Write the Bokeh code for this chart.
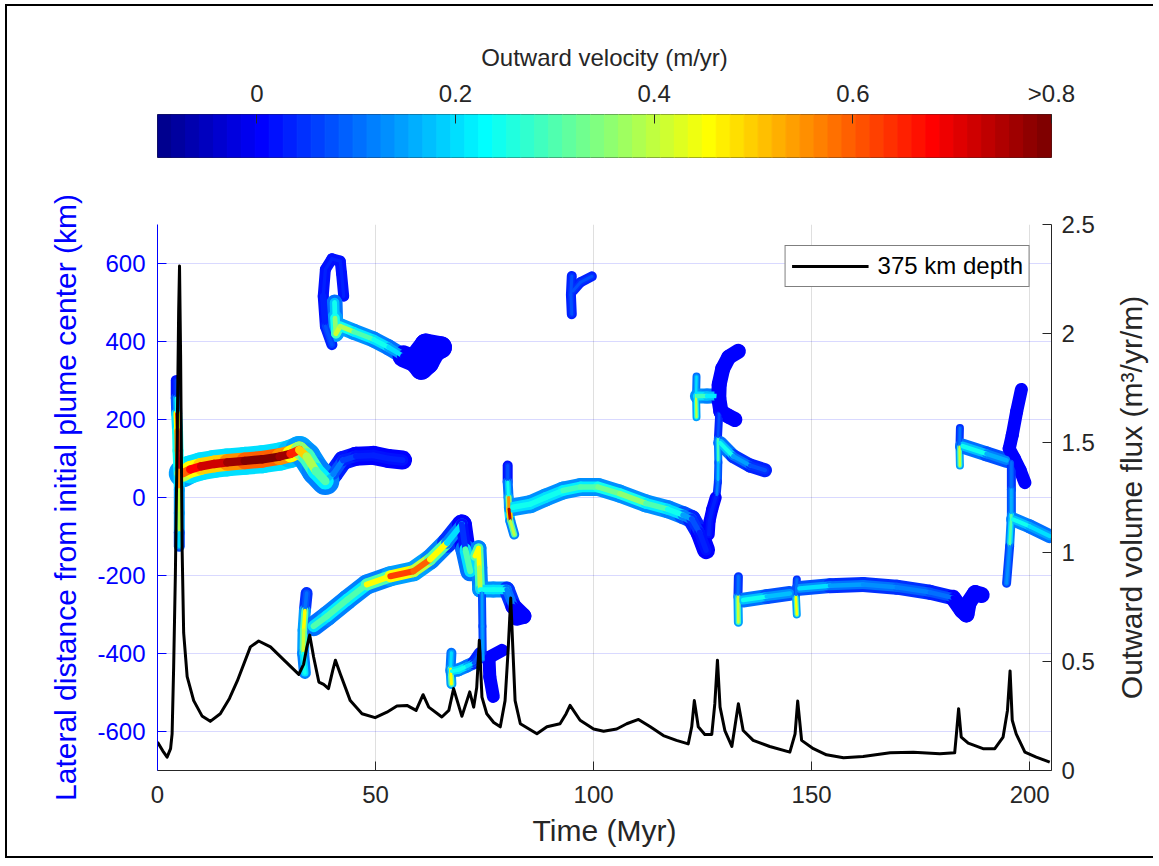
import math
from bokeh.plotting import figure
from bokeh.models import (ColumnDataSource, LinearAxis, Range1d, FixedTicker, Label,
                          Legend, LegendItem, LinearColorMapper)
from bokeh.layouts import column, row
from bokeh.embed import file_html
from bokeh.resources import INLINE

FONT = "Liberation Sans"

# ---------------- data ----------------
# colour bar
CBAR_LOW, CBAR_HIGH = -0.1, 0.8
CBAR_TICKS = [0, 0.2, 0.4, 0.6, 0.8]
CBAR_LABELS = ["0", "0.2", "0.4", "0.6", ">0.8"]

# axes ticks
X_TICKS = [0, 50, 100, 150, 200]
Y_TICKS = [-600, -400, -200, 0, 200, 400, 600]
Y_TICK_LABELS = ["-600", "-400", "-200", "0", "200", "400", "600"]
FLUX_TICKS = [0, 50000, 100000, 150000, 200000, 250000]
FLUX_TICK_LABELS = ["0", "0.5", "1", "1.5", "2", "2.5"]

# outward volume flux at 375 km depth: time (Myr), flux (m^3/yr/m)
FLUX_T = [0, 1.2, 2.2, 3.0, 3.35, 3.7, 4.1, 4.5, 4.85, 5.05, 5.3, 5.65, 6.0, 6.8, 8.3,
          10.2, 12.1, 14.4, 16.5, 18.3, 21.3, 23.2, 25.9, 28.9, 32.4, 33.5, 34.2, 34.9,
          35.8, 37.0, 38.1, 39.2, 40.2, 40.8, 41.9, 44.2, 46.9, 49.9, 52.6, 54.9, 57.2,
          59.3, 60.9, 62.2, 65.2, 66.8, 67.9, 69.8, 71.6, 72.5, 73.2, 73.8, 74.4, 75.5,
          77.1, 78.6, 79.7, 80.4, 81.0, 81.5, 82.0, 83.2, 87.0, 89.3, 92.3, 93.7, 94.6,
          96.9, 100, 102.3, 105.3, 107.6, 110.3, 113, 116, 119, 121.7, 122.5, 123.1, 124,
          125.5, 127.1, 127.8, 128.4, 129, 130.1, 131.7, 132.4, 133.2, 134.3, 136.6,
          140.4, 145, 146.2, 146.8, 147.7, 150.4, 153.4, 157.3, 161.8, 168, 173.3, 179.4,
          182.8, 183.2, 183.7, 184.3, 185.9, 189.3, 192, 193.9, 194.9, 195.5, 196, 196.9,
          198.9, 201.5, 204.6]
FLUX_V = [13000, 9000, 6100, 10000, 16800, 47000, 90000, 150000, 210000, 231000, 190000,
          101000, 63000, 43000, 32000, 25000, 22500, 26000, 33000, 41000, 56600, 59300,
          56600, 50800, 44000, 48600, 56000, 62000, 52000, 40500, 39400, 37500, 46000,
          50500, 44300, 32000, 26000, 24200, 26700, 29500, 29800, 27500, 34700, 29000,
          24500, 27500, 37500, 24800, 36000, 29000, 38000, 59600, 33600, 26000, 22000,
          20000, 32000, 55000, 79000, 55000, 32000, 21400, 16800, 20000, 21400, 26000,
          29800, 23000, 19000, 18000, 19000, 21400, 23400, 20000, 16000, 13800, 12200,
          20000, 32000, 20000, 16500, 16500, 30600, 50500, 29000, 18300, 11000, 20000,
          30600, 18300, 13800, 11000, 8400, 16800, 31800, 13800, 10000, 7200, 5800, 6400,
          8100, 8300, 7700, 8100, 16800, 28300, 15300, 12500, 10000, 10000, 15300, 27500,
          45600, 23000, 16800, 8400, 6100, 3800]

# plume-centre tracks: (time Myr, lateral distance km, edge / mid / core outward velocity m/yr)
TRK_A = [(4.3, 300, .02, .04, .06), (4.3, 255, .08, .15, .25), (4.4, 215, .2, .45, .65),
         (4.6, 170, .25, .55, .72), (4.7, 120, .25, .55, .72), (4.9, 70, .2, .4, .55),
         (5.0, 20, .15, .3, .4), (5.0, -40, .15, .28, .38), (5.0, -90, .08, .15, .2),
         (5.0, -125, .02, .05, .08)]
TRK_B = [(5.8, 62, .15, .4, .6), (7.5, 72, .2, .45, .68), (10, 80, .2, .5, .72),
         (13, 86, .2, .5, .72), (16, 90, .2, .55, .76), (20, 94, .2, .6, .8),
         (24, 98, .2, .6, .8), (28, 105, .2, .55, .76), (30.5, 112, .18, .45, .65),
         (32.5, 122, .15, .35, .5), (34.2, 105, .13, .28, .38), (36.3, 68, .12, .22, .3),
         (38.5, 42, .06, .12, .18)]
TRK_B_TAIL = [(38.5, 42, .06, .12, .18), (40.3, 60, .04, .08, .12), (42.5, 95, .02, .04, .06),
              (45.5, 106, 0, .02, .03), (49.5, 108, 0, .02, .03), (53, 100, 0, .02, .03),
              (56.2, 96, 0, .02, .03)]
TRK_C = [(42.7, 516, .02, .02, .03), (42.2, 575, .02, .02, .03), (41.9, 606, .02, .02, .03),
         (40.0, 612, .02, .02, .03), (38.5, 585, .02, .02, .03), (38.0, 516, .02, .03, .04),
         (38.5, 439, .04, .06, .08), (40.0, 392, .04, .06, .08)]
TRK_D = [(40.6, 500, .1, .18, .25), (40.7, 460, .15, .25, .35), (40.9, 420, .15, .28, .42),
         (41.9, 439, .15, .25, .38), (45, 425, .13, .22, .3), (49.6, 405, .12, .2, .25),
         (53, 385, .1, .15, .2), (56.4, 362, .05, .08, .12)]
TRK_D_BLOB = [(56.4, 362, 0, 0, 0), (59, 350, 0, 0, 0), (60.5, 330, 0, 0, 0),
              (62, 345, 0, 0, 0), (63.5, 375, 0, 0, 0), (65, 385, 0, 0, 0),
              (61.5, 392, 0, 0, 0), (60, 370, 0, 0, 0)]
TRK_E_START = [(34.2, -245, .05, .08, .1), (33.8, -290, .15, .3, .45), (33.5, -340, .15, .3, .42),
               (33.4, -400, .12, .2, .25), (33.8, -450, .03, .05, .07)]
TRK_E = [(35.8, -330, .1, .2, .3), (38.9, -304, .12, .22, .3), (43.5, -262, .12, .22, .3),
         (48.0, -223, .12, .3, .45), (53.4, -202, .15, .45, .62), (58.7, -189, .15, .4, .6),
         (62.5, -159, .12, .3, .45), (66.4, -116, .05, .12, .2), (69.8, -69, 0, .02, .05),
         (70.6, -133, .1, .2, .3), (71.7, -189, .12, .25, .35)]
TRK_E_END = [(72.8, -150, .12, .3, .45), (73.6, -130, .12, .3, .45), (73.8, -180, .12, .28, .4),
             (74.0, -236, .13, .2, .25), (77.0, -236, .13, .2, .25), (80.1, -236, .05, .1, .12),
             (81.6, -279, 0, 0, 0), (83.9, -304, 0, 0, 0), (82.4, -308, 0, 0, 0)]
TRK_E_DROP = [(74.4, -244, .06, .1, .15), (74.5, -330, .06, .1, .15), (74.6, -415, .03, .05, .07)]
TRK_E_BLUE = [(79.0, -392, 0, 0, 0), (76.0, -410, 0, 0, 0), (76.2, -460, 0, 0, 0),
              (77.0, -510, 0, 0, 0)]
TRK_E_SMALL_V = [(67.4, -398, .1, .15, .2), (67.2, -440, .15, .3, .45), (67.4, -478, .1, .15, .2)]
TRK_E_SMALL_H = [(67.5, -445, .12, .2, .25), (69, -442, .12, .2, .25), (71, -432, .1, .15, .2),
                 (72.5, -424, .03, .05, .07), (74, -400, .02, .03, .04)]
TRK_F_V = [(80.3, 82, .02, .05, .08), (80.3, 40, .1, .18, .25), (80.5, 0, .15, .35, .55),
           (80.6, -30, .2, .5, .75), (80.9, -60, .12, .3, .4), (81.8, -95, .02, .04, .06)]
TRK_F = [(81.5, -25, .13, .2, .25), (85.5, -17, .13, .2, .25), (89, 0, .13, .2, .25),
         (93, 18, .13, .22, .28), (97, 27, .13, .22, .3), (101, 27, .13, .25, .33),
         (106, 10, .13, .25, .35), (112, -15, .13, .22, .3), (117, -30, .12, .2, .25),
         (120.5, -45, .08, .12, .15), (122.5, -55, .03, .05, .07), (124.3, -90, 0, .02, .03),
         (125.8, -135, 0, .02, .03)]
TRK_G_V = [(95.0, 470, .03, .05, .08), (94.8, 520, .03, .05, .08), (95.0, 568, .03, .05, .08)]
TRK_G_B = [(95.3, 530, .03, .05, .08), (97, 552, .03, .05, .08), (99.6, 567, .03, .05, .08)]
TRK_H_V = [(123.6, 310, .1, .15, .2), (123.5, 262, .15, .25, .4), (123.6, 206, .1, .15, .2)]
TRK_H = [(123.8, 260, .13, .2, .28), (126, 260, .12, .18, .22), (128.4, 260, .08, .12, .15)]
TRK_H_ARC = [(133.2, 375, 0, 0, 0), (131.0, 360, 0, 0, 0), (129.6, 330, 0, 0, 0),
             (128.8, 290, 0, 0, 0), (128.7, 255, 0, 0, 0), (129.2, 220, 0, 0, 0),
             (131.0, 208, 0, 0, 0), (132.4, 200, 0, 0, 0)]
TRK_H_DOWN = [(128.8, 215, .03, .05, .08), (128.5, 150, .1, .18, .28), (128.6, 90, .08, .12, .18),
              (128.5, 40, .05, .08, .12), (128.2, 5, .03, .05, .08)]
TRK_H_LOW = [(128.0, 0, .01, .02, .03), (127.2, -30, .01, .02, .03), (126.6, -60, .01, .02, .03),
             (126.4, -95, .01, .02, .03)]
TRK_H_BR = [(129, 140, .1, .18, .25), (132, 106, .05, .1, .15), (135.9, 82, .03, .05, .08),
            (139.3, 70, .02, .03, .04)]
TRK_I_V1 = [(133.2, -203, .05, .08, .1), (133.1, -255, .15, .28, .42), (133.2, -320, .05, .08, .1)]
TRK_I_H1 = [(134.3, -263, .1, .18, .25), (139.7, -254, .08, .13, .18), (145, -246, .06, .1, .15)]
TRK_I_V2 = [(146.6, -210, .05, .08, .1), (146.4, -255, .15, .3, .45), (146.6, -300, .05, .08, .1)]
TRK_I = [(147.2, -233, .08, .13, .2), (154.2, -226, .05, .1, .14), (161.8, -223, .05, .1, .13),
         (169.5, -230, .05, .09, .12), (177.1, -243, .04, .08, .1), (182.4, -257, .02, .04, .05)]
TRK_I_BLOB = [(182.4, -257, 0, 0, 0), (184.5, -290, 0, 0, 0), (185.5, -300, 0, 0, 0),
              (186, -270, 0, 0, 0), (187.5, -245, 0, 0, 0), (189, -250, 0, 0, 0)]
TRK_J_V = [(184.0, 178, .05, .08, .1), (183.9, 130, .15, .28, .42), (184.0, 82, .05, .08, .1)]
TRK_J = [(184.6, 132, .1, .18, .25), (190.1, 112, .08, .12, .16), (194.7, 95, .03, .05, .07)]
TRK_J_ARC = [(198.1, 277, 0, 0, 0), (197.0, 220, 0, 0, 0), (196.0, 160, 0, 0, 0),
             (195.3, 125, 0, 0, 0), (196.5, 100, 0, 0, 0), (197.8, 70, 0, 0, 0),
             (198.9, 38, 0, 0, 0)]
TRK_J_DOWN = [(195.8, 90, .05, .08, .1), (195.8, 20, .08, .12, .16), (195.8, -45, .12, .2, .3),
              (195.4, -125, .06, .1, .13), (194.7, -220, .03, .05, .07)]
TRK_J_BR = [(196.2, -56, .12, .18, .25), (200, -74, .1, .15, .2), (204.6, -99, .08, .12, .16)]

# ---------------- styles ----------------
# (track, band width in px)
TRACK_STYLE = [
    (TRK_B_TAIL, 19), (TRK_B, 28), (TRK_A, 11), (TRK_C, 11), (TRK_D, 16), (TRK_D_BLOB, 22),
    (TRK_E_START, 12), (TRK_E, 20), (TRK_E_END, 16), (TRK_E_DROP, 8), (TRK_E_BLUE, 13),
    (TRK_E_SMALL_V, 10), (TRK_E_SMALL_H, 13), (TRK_F_V, 10), (TRK_F, 18),
    (TRK_G_V, 10), (TRK_G_B, 10), (TRK_H_V, 8), (TRK_H, 15), (TRK_H_ARC, 15),
    (TRK_H_DOWN, 8), (TRK_H_LOW, 12), (TRK_H_BR, 14), (TRK_I_V1, 9), (TRK_I_H1, 15),
    (TRK_I_V2, 8), (TRK_I, 15), (TRK_I_BLOB, 16), (TRK_J_V, 8), (TRK_J, 15),
    (TRK_J_ARC, 13), (TRK_J_DOWN, 9), (TRK_J_BR, 14),
]
LAYER_SCALE = [1.0, 0.6, 0.3]
TEXT = "#262626"
BLUE = "#0000ff"


def jet(m=64):
    n = math.ceil(m / 4)
    u = [i / n for i in range(1, n + 1)] + [1.0] * (n - 1) + [i / n for i in range(n, 0, -1)]
    g0 = math.ceil(n / 2) - (1 if m % 4 == 1 else 0)
    g = [g0 + i for i in range(1, len(u) + 1)]
    r = [x + n for x in g if x + n <= m]
    b = [x - n for x in g if x - n >= 1]
    g = [x for x in g if x <= m]
    J = [[0.0, 0.0, 0.0] for _ in range(m)]
    for k, idx in enumerate(r):
        J[idx - 1][0] = u[k]
    for k, idx in enumerate(g):
        J[idx - 1][1] = u[k]
    ub = u[len(u) - len(b):]
    for k, idx in enumerate(b):
        J[idx - 1][2] = ub[k]
    return ["#%02x%02x%02x" % tuple(int(round(c * 255)) for c in row) for row in J]


JET = jet(64)
mapper = LinearColorMapper(palette=JET, low=CBAR_LOW, high=CBAR_HIGH)

# ---------------- colour bar figure ----------------
cb = figure(frame_width=894, frame_height=43, x_range=Range1d(CBAR_LOW, CBAR_HIGH),
            y_range=Range1d(0, 1), min_border_left=150, min_border_right=100,
            min_border_top=108, min_border_bottom=11, output_backend="svg",
            toolbar_location=None, x_axis_location="above")
step = (CBAR_HIGH - CBAR_LOW) / len(JET)
lefts = [CBAR_LOW + i * step for i in range(len(JET))]
rights = [CBAR_LOW + (i + 1) * step for i in range(len(JET))]
cb.quad(left=lefts, right=rights, bottom=0, top=1, fill_color=JET, line_color=JET, line_width=1)
cb.yaxis.visible = False
cb.grid.visible = False
cb.outline_line_color = TEXT
cb.outline_line_width = 1
ax = cb.xaxis[0]
ax.ticker = FixedTicker(ticks=CBAR_TICKS)
ax.major_label_overrides = dict(zip(CBAR_TICKS, CBAR_LABELS))
ax.minor_tick_line_color = None
ax.major_tick_in = 9
ax.major_tick_out = 0
ax.major_tick_line_color = TEXT
ax.axis_line_color = None
ax.major_label_text_font = FONT
ax.major_label_text_font_size = "24px"
ax.major_label_text_color = TEXT
ax.major_label_standoff = 8
ax.axis_label = "Outward velocity (m/yr)"
ax.axis_label_text_font = FONT
ax.axis_label_text_font_size = "24px"
ax.axis_label_text_font_style = "normal"
ax.axis_label_text_color = TEXT
ax.axis_label_standoff = 6

# ---------------- main figure ----------------
p = figure(frame_width=894, frame_height=546, x_range=Range1d(0, 205), y_range=Range1d(-700, 700),
           min_border_left=150, min_border_right=60, min_border_top=56, min_border_bottom=86,
           output_backend="svg", toolbar_location=None)
p.outline_line_color = None
p.extra_y_ranges = {"flux": Range1d(0, 250000)}

for li, sc in enumerate(LAYER_SCALE):
    xs, ys, vs, ws = [], [], [], []
    for pts, w in TRACK_STYLE:
        for a, b in zip(pts[:-1], pts[1:]):
            xs.append([a[0], b[0]])
            ys.append([a[1], b[1]])
            vs.append(a[2 + li])
            ws.append(w * sc)
    src = ColumnDataSource(dict(xs=xs, ys=ys, v=vs, w=ws))
    p.multi_line(xs="xs", ys="ys", source=src, line_color={"field": "v", "transform": mapper},
                 line_width="w", line_cap="round", line_join="round")

flux_r = p.line(FLUX_T, FLUX_V, y_range_name="flux", line_color="black", line_width=3,
                line_join="round")

# axes
xa = p.xaxis[0]
xa.ticker = FixedTicker(ticks=X_TICKS)
ya = p.yaxis[0]
ya.ticker = FixedTicker(ticks=Y_TICKS)
ya.major_label_overrides = dict(zip(Y_TICKS, Y_TICK_LABELS))
ra = LinearAxis(y_range_name="flux", ticker=FixedTicker(ticks=FLUX_TICKS))
ra.major_label_overrides = dict(zip(FLUX_TICKS, FLUX_TICK_LABELS))
p.add_layout(ra, "right")

for a, col in ((xa, TEXT), (ya, BLUE), (ra, TEXT)):
    a.minor_tick_line_color = None
    a.major_tick_in = 9
    a.major_tick_out = 0
    a.major_tick_line_color = col
    a.axis_line_color = col
    a.major_label_text_color = col
    a.major_label_text_font = FONT
    a.major_label_text_font_size = "24px"
    a.axis_label_text_font = FONT
    a.axis_label_text_font_size = "30px"
    a.axis_label_text_font_style = "normal"
    a.axis_label_text_color = col

xa.axis_label = "Time (Myr)"
xa.major_label_standoff = 15
xa.axis_label_standoff = 8
ya.axis_label = "Lateral distance from initial plume center (km)"
ya.major_label_standoff = 12
ya.axis_label_standoff = 12
ra.major_label_standoff = 10

p.xgrid.ticker = FixedTicker(ticks=X_TICKS)
p.xgrid.grid_line_color = TEXT
p.xgrid.grid_line_alpha = 0.15
p.ygrid.ticker = FixedTicker(ticks=Y_TICKS)
p.ygrid.grid_line_color = BLUE
p.ygrid.grid_line_alpha = 0.15

p.add_layout(Label(x=205, y=700, text="×10⁵", x_offset=2, y_offset=12,
                   text_font=FONT, text_font_size="24px", text_color=TEXT,
                   text_baseline="alphabetic", text_align="left"))

legend = Legend(items=[LegendItem(label="375 km depth", renderers=[flux_r])], location="top_right")
legend.margin = 21
legend.padding = 6
legend.spacing = 0
legend.glyph_width = 77
legend.glyph_height = 28
legend.label_height = 28
legend.label_standoff = 9
legend.label_text_font = FONT
legend.label_text_font_size = "24px"
legend.label_text_color = "black"
legend.border_line_color = "black"
legend.border_line_width = 1
legend.background_fill_alpha = 1.0
p.add_layout(legend)

# ---------------- right-hand title (reads bottom to top, as in the reference) ----------------
rl = figure(frame_width=6, frame_height=546, x_range=Range1d(0, 1), y_range=Range1d(0, 1),
            min_border_left=4, min_border_right=0, min_border_top=56, min_border_bottom=86,
            output_backend="svg", toolbar_location=None)
rl.outline_line_color = None
rl.grid.visible = False
rl.xaxis.visible = False
rla = rl.yaxis[0]
rla.ticker = FixedTicker(ticks=[])
rla.minor_tick_line_color = None
rla.major_tick_line_color = None
rla.axis_line_color = None
rla.axis_label = "Outward volume flux (m³/yr/m)"
rla.axis_label_text_font = FONT
rla.axis_label_text_font_size = "30px"
rla.axis_label_text_font_style = "normal"
rla.axis_label_text_color = TEXT
rla.axis_label_standoff = 0

layout = column(cb, row(p, rl, spacing=0), spacing=0,
                styles={"border-top": "2px solid black", "border-left": "2px solid black",
                        "border-bottom": "2px solid black", "margin-top": "4px",
                        "margin-left": "5px"})

open("out.html", "w").write(file_html(layout, INLINE))
